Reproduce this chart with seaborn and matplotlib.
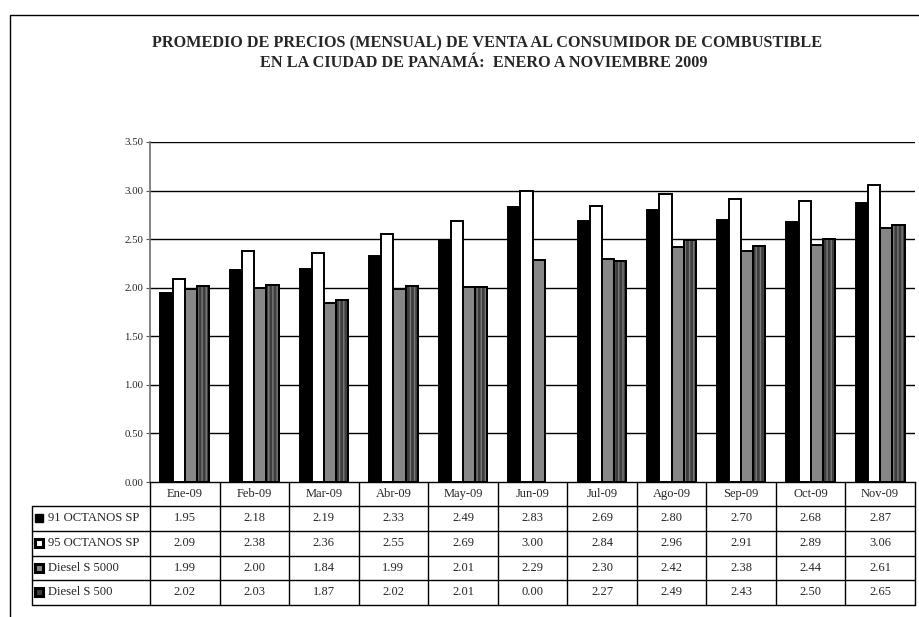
import matplotlib
matplotlib.use("Agg")
import matplotlib.pyplot as plt
import matplotlib.transforms as mtransforms
from matplotlib.patches import Rectangle
from matplotlib.lines import Line2D
import numpy as np
import pandas as pd
import seaborn as sns

# Monthly average retail fuel prices, Panama City, 2009
meses = ["Ene-09", "Feb-09", "Mar-09", "Abr-09", "May-09", "Jun-09",
         "Jul-09", "Ago-09", "Sep-09", "Oct-09", "Nov-09"]
series = ["91 OCTANOS SP", "95 OCTANOS SP", "Diesel S 5000", "Diesel S 500"]
oct91 = [1.95, 2.18, 2.19, 2.33, 2.49, 2.83, 2.69, 2.80, 2.70, 2.68, 2.87]
oct95 = [2.09, 2.38, 2.36, 2.55, 2.69, 3.00, 2.84, 2.96, 2.91, 2.89, 3.06]
diesel5000 = [1.99, 2.00, 1.84, 1.99, 2.01, 2.29, 2.30, 2.42, 2.38, 2.44, 2.61]
diesel500 = [2.02, 2.03, 1.87, 2.02, 2.01, 0.00, 2.27, 2.49, 2.43, 2.50, 2.65]
y_ticks = [0.0, 0.5, 1.0, 1.5, 2.0, 2.5, 3.0, 3.5]

valores = [oct91, oct95, diesel5000, diesel500]
df = pd.DataFrame({
    "Mes": np.tile(meses, len(series)),
    "Tipo": np.repeat(series, len(meses)),
    "Precio": np.concatenate(valores),
})

sns.set_theme(style="white")
plt.rcParams["font.family"] = ["Liberation Serif", "DejaVu Serif"]

W, H = 920, 617
fig = plt.figure(figsize=(W / 100, H / 100), dpi=100)
fig.patch.set_facecolor("white")

def fx(px):
    return px / W

def fy(py):
    return (H - py) / H

ax_left, ax_right, ax_top, ax_bottom = 150, 915, 142, 482
ax = fig.add_axes([fx(ax_left), fy(ax_bottom), fx(ax_right - ax_left),
                   (ax_bottom - ax_top) / H])

colores = ["#000000", "#ffffff", "#878787", "#3e3e3e"]
sns.barplot(data=df, x="Mes", y="Precio", hue="Tipo", hue_order=series,
            order=meses, palette=colores, saturation=1, width=0.7,
            edgecolor="black", linewidth=1.4, legend=False, ax=ax)

# empty months leave no mark
for cont in ax.containers:
    for bar in cont:
        if bar.get_height() <= 0:
            bar.set_visible(False)

# vertical stripe texture on the Diesel S 500 bars
for bar in ax.containers[3]:
    if bar.get_height() > 0:
        ax.add_patch(Rectangle(bar.get_xy(), bar.get_width(), bar.get_height(),
                               facecolor="none", edgecolor="#7a7a7a",
                               linewidth=0, hatch="||||", zorder=bar.get_zorder() + 0.1))
        ax.add_patch(Rectangle(bar.get_xy(), bar.get_width(), bar.get_height(),
                               facecolor="none", edgecolor="black",
                               linewidth=1.4, zorder=bar.get_zorder() + 0.2))

ax.set_xlim(-0.5, len(meses) - 0.5)
ax.set_ylim(0, 3.5)
ax.set_yticks(y_ticks)
ax.set_yticklabels([f"{t:.2f}" for t in y_ticks], fontsize=7.8)
ax.set_xticks([])
ax.set_xlabel("")
ax.set_ylabel("")
ax.tick_params(axis="y", which="both", left=True, length=3, width=0.8,
               color="#555555", pad=2)
for t in y_ticks[1:]:
    ax.axhline(t, color="black", linewidth=1.0, zorder=0.5)
for s in ["top", "right"]:
    ax.spines[s].set_visible(False)
ax.spines["left"].set_color("#6e6e6e")
ax.spines["left"].set_linewidth(1.2)
ax.spines["bottom"].set_color("black")
ax.spines["bottom"].set_linewidth(1.0)

# data table under the chart: x follows the category axis, y in figure units
trans = mtransforms.blended_transform_factory(ax.transData, fig.transFigure)
ftrans = fig.transFigure
rows_y = [482, 505.5, 530.5, 555.5, 580, 604.5]
label_left = 32
lw = 1.0

def add_line(xs, ys, transform):
    fig.add_artist(Line2D(xs, ys, transform=transform, color="black",
                          linewidth=lw, clip_on=False))

n = len(meses)
# horizontal rules
for yy in rows_y[1:]:
    add_line([fx(label_left), fx(ax_right)], [fy(yy), fy(yy)], ftrans)
# vertical rules
add_line([fx(label_left)] * 2, [fy(rows_y[1]), fy(rows_y[-1])], ftrans)
for k in range(n + 1):
    xk = k - 0.5
    add_line([xk, xk], [fy(rows_y[0]), fy(rows_y[-1])], trans)

# month header row
for k, m in enumerate(meses):
    fig.text(k, fy((rows_y[0] + rows_y[1]) / 2), m, transform=trans,
             ha="center", va="center", fontsize=9)

# series rows
marker_style = [
    dict(facecolor="black", edgecolor="black", linewidth=1.0),
    dict(facecolor="white", edgecolor="black", linewidth=2.2),
    dict(facecolor="#878787", edgecolor="black", linewidth=2.2),
    dict(facecolor="#3e3e3e", edgecolor="black", linewidth=2.2),
]
for r, (nombre, vals) in enumerate(zip(series, valores)):
    yc = (rows_y[r + 1] + rows_y[r + 2]) / 2
    fig.add_artist(Rectangle((fx(35), fy(yc + 4)), fx(8), 8 / H,
                             transform=ftrans, **marker_style[r]))
    fig.text(fx(48), fy(yc), nombre, ha="left", va="center", fontsize=9.1)
    for k, v in enumerate(vals):
        fig.text(k, fy(yc), f"{v:.2f}", transform=trans,
                 ha="center", va="center", fontsize=9)

# outer chart frame
fig.add_artist(Rectangle((fx(10), fy(H + 20)), fx(W), (H + 5) / H,
                         transform=ftrans, facecolor="none",
                         edgecolor="black", linewidth=1.0))

fig.text(fx(487), fy(43), "PROMEDIO DE PRECIOS (MENSUAL) DE VENTA AL CONSUMIDOR DE COMBUSTIBLE",
         ha="center", va="center", fontsize=11.7, fontweight="bold")
fig.text(fx(484), fy(63), "EN LA CIUDAD DE PANAMÁ:  ENERO A NOVIEMBRE 2009",
         ha="center", va="center", fontsize=11.7, fontweight="bold")

fig.savefig("out.png", dpi=100, facecolor="white")
